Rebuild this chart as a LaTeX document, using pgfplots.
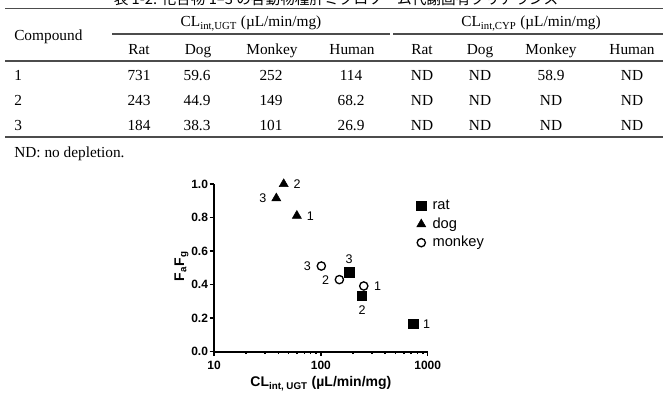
\documentclass[border=0pt]{standalone}
\usepackage{pgfplots}
\pgfplotsset{compat=1.18}
\usepackage{fontspec}
\setmainfont{Liberation Serif}
\newfontfamily\chartfont{Liberation Sans}
\newfontfamily\cjkfont{Noto Sans CJK JP}

\pgfplotsset{
  mk/.style={only marks, black,
    legend image code/.code={\path (0cm,0cm) (0.42cm,0cm);\draw[##1] plot coordinates {(0.165cm,0cm)};}},
  ptlabels/.style={
    nodes near coords={\lab},
    visualization depends on={value \thisrow{anc} \as \anc},
    visualization depends on={value \thisrow{lab} \as \lab},
    every node near coord/.style={anchor=\anc, black,
      font=\chartfont\fontsize{9.4pt}{11pt}\selectfont,
      inner xsep=7.3pt, inner ysep=6.6pt, text height=6.8pt, text depth=0pt}},
}

\newcommand\tfont{\fontsize{11.5pt}{13pt}\selectfont}

\begin{document}
\begin{tikzpicture}
\begin{scope}[x=0.75pt,y=-0.75pt]
\path[use as bounding box] (0,0) rectangle (667,405);

% caption line
\begin{scope}
\clip (0,0) rectangle (667,8);
\node[anchor=base, inner sep=0pt, font=\cjkfont\fontsize{11pt}{13pt}\selectfont]
  at (336,4.5) {表 1-2. 化合物 1–3 の各動物種肝ミクロソーム代謝固有クリアランス};
\end{scope}

% table rules
\draw[line width=1pt, black!70] (5,8.5) -- (663,8.5);
\draw[line width=0.8pt, black!70] (112,34) -- (390,34);
\draw[line width=0.8pt, black!70] (393,34) -- (663,34);
\draw[line width=1pt, black!70] (5,61) -- (663,61);
\draw[line width=1pt, black!70] (5,137) -- (663,137);

% header
\begin{scope}[every node/.style={inner sep=0pt, font=\tfont}]
\node[anchor=base west] at (14,40) {Compound};
\node[anchor=base] at (251,26.7) {CL\textsubscript{int,UGT} (µL/min/mg)};
\node[anchor=base] at (531,26.7) {CL\textsubscript{int,CYP} (µL/min/mg)};
\foreach \xx/\tt in {139/Rat,198/Dog,272/Monkey,352/Human,422/Rat,480/Dog,551/Monkey,632/Human}
  \node[anchor=base] at (\xx,54) {\tt};
% body
\foreach \yy/\c/\a/\b/\m/\h/\p/\q/\r/\s in {
    80.7/1/731/59.6/252/114/ND/ND/58.9/ND,
    105.7/2/243/44.9/149/68.2/ND/ND/ND/ND,
    130.7/3/184/38.3/101/26.9/ND/ND/ND/ND}{
  \node[anchor=base west] at (14,\yy) {\c};
  \node[anchor=base] at (139,\yy) {\a};
  \node[anchor=base] at (197,\yy) {\b};
  \node[anchor=base] at (271,\yy) {\m};
  \node[anchor=base] at (351,\yy) {\h};
  \node[anchor=base] at (422,\yy) {\p};
  \node[anchor=base] at (480,\yy) {\q};
  \node[anchor=base] at (551,\yy) {\r};
  \node[anchor=base] at (632,\yy) {\s};
}
\node[anchor=base west] at (14,157) {ND: no depletion.};
\end{scope}
\end{scope}

\begin{axis}[
  at={(160.5pt,-263.8pt)}, anchor=south west,
  scale only axis, width=160.3pt, height=125.8pt,
  xmode=log, xmin=10, xmax=1000, ymin=0, ymax=1,
  clip=false,
  axis x line*=bottom, axis y line*=left,
  axis line style={line width=1.5pt},
  every tick/.style={black, line width=1.1pt},
  tick align=outside,
  major tick length=3.2pt, minor tick length=1.8pt,
  xtick={10,100,1000}, xticklabels={10,100,1000},
  ytick={0,0.2,0.4,0.6,0.8,1},
  /pgf/number format/assume math mode=true,
  tick label style={font=\chartfont\bfseries\fontsize{9pt}{10pt}\selectfont},
  yticklabel style={xshift=2.2pt, /pgf/number format/.cd, fixed, fixed zerofill, precision=1},
  xlabel={\textbf{CL\textsubscript{int, UGT} (µL/min/mg)}},
  ylabel={\textbf{F\textsubscript{a}F\textsubscript{g}}},
  label style={font=\chartfont\fontsize{10.5pt}{12pt}\selectfont},
  xlabel style={at={(axis description cs:0.5,-0.19)}, anchor=center},
  ylabel style={at={(axis description cs:-0.152,0.51)}, anchor=center},
  legend style={draw=none, fill=none, at={(axis description cs:0.938,0.918)},
    anchor=north west, inner sep=0pt, row sep=2pt, legend cell align=left,
    font=\chartfont\fontsize{11pt}{13pt}\selectfont,
    nodes={inner sep=1pt, text height=7.8pt, text depth=2pt}},
]
\addplot[mk, mark=square*, mark size=3.5pt, ptlabels] table[x=x, y=y] {
x y lab anc
731 0.165 1 west
243 0.332 2 north
184 0.473 3 south
};
\addlegendentry{rat}
\addplot[mk, mark=triangle*, mark size=3.9pt, ptlabels] table[x=x, y=y] {
x y lab anc
59.6 0.811 1 west
44.9 1.0 2 west
38.3 0.915 3 east
};
\addlegendentry{dog}
\addplot[mk, mark=*, mark size=3.1pt, mark options={fill=white, line width=1pt}, ptlabels] table[x=x, y=y] {
x y lab anc
252 0.392 1 west
149 0.43 2 east
101 0.511 3 east
};
\addlegendentry{monkey}
\end{axis}
\end{tikzpicture}
\end{document}
